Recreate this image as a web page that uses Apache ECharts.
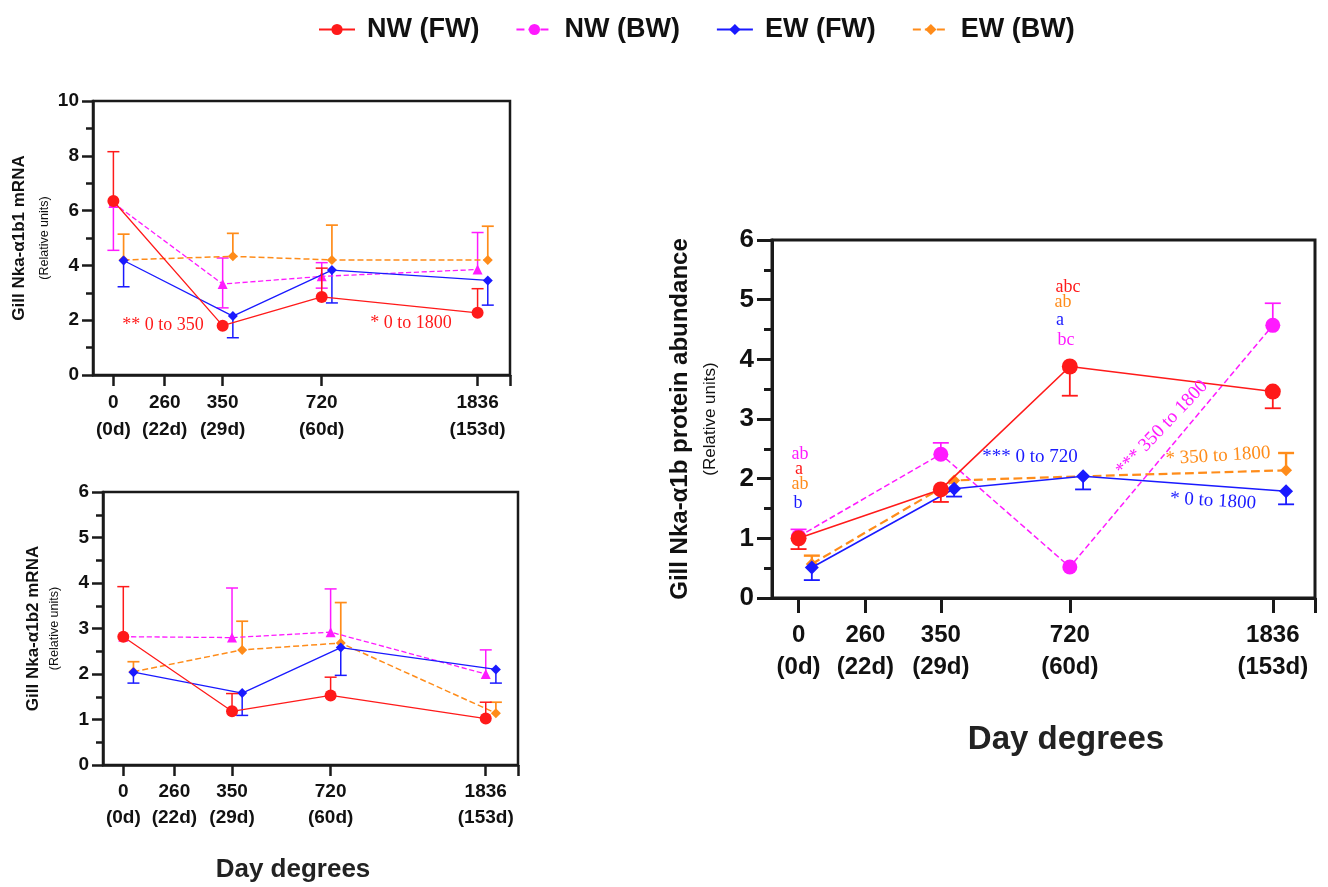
<!DOCTYPE html>
<html>
<head>
<meta charset="utf-8">
<script src="https://cdn.jsdelivr.net/npm/echarts/dist/echarts.min.js"></script>
<style>
html,body{margin:0;padding:0;background:#fff;}
#chart{width:1328px;height:887px;}
</style>
</head>
<body>
<div id="chart"></div>
<script>
// ---------------- DATA ----------------
const seriesNames = ['NW (FW)', 'NW (BW)', 'EW (FW)', 'EW (BW)'];
const dayDegreePoints = [0, 350, 720, 1836];
const tickValues = [0, 260, 350, 720, 1836];
const tickLabels = ['0', '260', '350', '720', '1836'];
const tickDays = ['(0d)', '(22d)', '(29d)', '(60d)', '(153d)'];

// Panel: Gill Nka-α1b1 mRNA (top left)
const b1_NWFW = [6.35, 1.80, 2.85, 2.27];
const b1_NWFW_hi = [8.15, null, 3.90, 3.15];
const b1_NWFW_lo = [null, null, null, null];
const b1_NWBW = [6.28, 3.32, 3.60, 3.85];
const b1_NWBW_hi = [null, 4.27, 4.10, 5.20];
const b1_NWBW_lo = [4.55, 2.45, 3.17, null];
const b1_EWFW = [4.18, 2.15, 3.83, 3.45];
const b1_EWFW_hi = [null, null, null, null];
const b1_EWFW_lo = [3.22, 1.36, 2.63, 2.55];
const b1_EWBW = [4.20, 4.33, 4.20, 4.20];
const b1_EWBW_hi = [5.14, 5.17, 5.47, 5.43];
const b1_EWBW_lo = [null, null, null, null];

// Panel: Gill Nka-α1b2 mRNA (bottom left)
const b2_NWFW = [2.82, 1.18, 1.53, 1.02];
const b2_NWFW_hi = [3.92, 1.57, 1.93, 1.38];
const b2_NWFW_lo = [null, null, null, null];
const b2_NWBW = [2.82, 2.80, 2.92, 2.00];
const b2_NWBW_hi = [null, 3.89, 3.87, 2.53];
const b2_NWBW_lo = [null, null, null, null];
const b2_EWFW = [2.04, 1.58, 2.58, 2.10];
const b2_EWFW_hi = [null, null, null, null];
const b2_EWFW_lo = [1.80, 1.09, 1.97, 1.80];
const b2_EWBW = [2.05, 2.53, 2.68, 1.14];
const b2_EWBW_hi = [2.27, 3.16, 3.57, 1.38];
const b2_EWBW_lo = [null, null, null, null];

// Panel: Gill Nka-α1b protein abundance (right)
const pr_NWFW = [1.00, 1.82, 3.88, 3.46];
const pr_NWFW_hi = [null, null, null, null];
const pr_NWFW_lo = [0.82, 1.61, 3.39, 3.18];
const pr_NWBW = [1.03, 2.41, 0.52, 4.57];
const pr_NWBW_hi = [1.15, 2.60, null, 4.94];
const pr_NWBW_lo = [null, null, null, null];
const pr_EWFW = [0.51, 1.83, 2.04, 1.79];
const pr_EWFW_hi = [null, null, null, null];
const pr_EWFW_lo = [0.30, 1.70, 1.82, 1.57];
const pr_EWBW = [0.57, 1.97, 2.04, 2.14];
const pr_EWBW_hi = [0.71, null, null, 2.43];
const pr_EWBW_lo = [null, null, null, null];

// ---------------- SCALE (non-linear day-degree axis as drawn) ----------------
const axisKnotPos = [0, 0.141, 0.300, 0.572, 1];
const X_MIN = -0.056, X_MAX = 1.089;
const EW_SHIFT = 0.028; // EW groups drawn slightly to the right
function xPos(d) {
  for (let i = 0; i < tickValues.length - 1; i++) {
    if (d <= tickValues[i + 1]) {
      const t = (d - tickValues[i]) / (tickValues[i + 1] - tickValues[i]);
      return axisKnotPos[i] + t * (axisKnotPos[i + 1] - axisKnotPos[i]);
    }
  }
  return 1;
}

// ---------------- STYLE ----------------
const COLORS = ['#ff1a1a', '#ff1aff', '#1a1aff', '#ff8c1a'];
const DASH = ['solid', 'dashed', 'solid', 'dashed'];
const SHIFT = [0, 0, EW_SHIFT, EW_SHIFT];
const Z = [8, 5, 6, 4];

const panels = [
  { // right first so legend icons match (circles)
    grid: { left: 772, top: 240, width: 543, height: 358 },
    ymax: 6, interval: 1, yFont: 26, xFont: 24, xLineH: 32, xMargin: 21, tickLen: 15, minorLen: 8, axisW: 3,
    symbols: ['circle', 'circle', 'diamond', 'diamond'], sizes: [16, 15, 14, 12],
    lineW: [1.6, 1.5, 1.6, 2.2], cap: 8,
    title: 'Gill Nka-α1b protein abundance', tFont: 24, sFont: 17, tLH: 36, sLH: 24, nameGap: 50,
    data: [[pr_NWFW, pr_NWFW_hi, pr_NWFW_lo], [pr_NWBW, pr_NWBW_hi, pr_NWBW_lo],
           [pr_EWFW, pr_EWFW_hi, pr_EWFW_lo], [pr_EWBW, pr_EWBW_hi, pr_EWBW_lo]]
  },
  {
    grid: { left: 93, top: 101, width: 417, height: 274 },
    ymax: 10, interval: 2, yFont: 19, xFont: 19, xLineH: 27, xMargin: 14, tickLen: 11, minorLen: 7, axisW: 2.5,
    symbols: ['circle', 'triangle', 'diamond', 'diamond'], sizes: [12, 10, 10, 10],
    lineW: [1.3, 1.3, 1.3, 1.5], cap: 6,
    title: 'Gill Nka-α1b1 mRNA', tFont: 17, sFont: 12.5, tLH: 30, sLH: 21, nameGap: 38,
    data: [[b1_NWFW, b1_NWFW_hi, b1_NWFW_lo], [b1_NWBW, b1_NWBW_hi, b1_NWBW_lo],
           [b1_EWFW, b1_EWFW_hi, b1_EWFW_lo], [b1_EWBW, b1_EWBW_hi, b1_EWBW_lo]]
  },
  {
    grid: { left: 103, top: 492, width: 415, height: 273 },
    ymax: 6, interval: 1, yFont: 19, xFont: 19, xLineH: 26, xMargin: 14, tickLen: 11, minorLen: 7, axisW: 2.5,
    symbols: ['circle', 'triangle', 'diamond', 'diamond'], sizes: [12, 10, 10, 10],
    lineW: [1.3, 1.3, 1.3, 1.5], cap: 6,
    title: 'Gill Nka-α1b2 mRNA', tFont: 17, sFont: 12.5, tLH: 26, sLH: 18, nameGap: 39,
    data: [[b2_NWFW, b2_NWFW_hi, b2_NWFW_lo], [b2_NWBW, b2_NWBW_hi, b2_NWBW_lo],
           [b2_EWFW, b2_EWFW_hi, b2_EWFW_lo], [b2_EWBW, b2_EWBW_hi, b2_EWBW_lo]]
  }
];

const FONT = 'Liberation Sans, Arial, sans-serif';
const SERIF = 'Liberation Serif, DejaVu Serif, serif';
const AXIS_COLOR = '#1a1a1a';

const grids = [], xAxes = [], yAxes = [], series = [];

function errRender(cap, color, width) {
  return function (params, api) {
    const x = api.value(0), m = api.value(1);
    const ends = [api.value(2), api.value(3)];
    const pm = api.coord([x, m]);
    const children = [];
    ends.forEach(v => {
      if (v === null || v === undefined || isNaN(v)) return;
      const pe = api.coord([x, v]);
      children.push({ type: 'line', shape: { x1: pm[0], y1: pm[1], x2: pe[0], y2: pe[1] },
        style: { stroke: color, lineWidth: width } });
      children.push({ type: 'line', shape: { x1: pe[0] - cap, y1: pe[1], x2: pe[0] + cap, y2: pe[1] },
        style: { stroke: color, lineWidth: width } });
    });
    return { type: 'group', children };
  };
}

panels.forEach((p, gi) => {
  grids.push(Object.assign({ show: true, borderColor: AXIS_COLOR, borderWidth: p.axisW,
    backgroundColor: 'transparent', containLabel: false }, p.grid));
  const tickPos = tickValues.map(xPos);
  xAxes.push({
    gridIndex: gi, type: 'value', min: X_MIN, max: X_MAX,
    axisLine: { show: true, onZero: false, lineStyle: { color: AXIS_COLOR, width: p.axisW } },
    axisTick: { show: true, customValues: tickPos.concat([X_MAX]), length: p.tickLen,
      lineStyle: { color: AXIS_COLOR, width: p.axisW } },
    axisLabel: {
      customValues: tickPos, margin: p.xMargin,
      formatter: v => {
        let k = 0, best = 1e9;
        tickPos.forEach((t, i) => { if (Math.abs(t - v) < best) { best = Math.abs(t - v); k = i; } });
        return '{n|' + tickLabels[k] + '}\n{d|' + tickDays[k] + '}';
      },
      rich: {
        n: { fontFamily: FONT, fontWeight: 'bold', fontSize: p.xFont, color: '#111', lineHeight: p.xLineH },
        d: { fontFamily: FONT, fontWeight: 'bold', fontSize: p.xFont, color: '#111', lineHeight: p.xLineH }
      }
    },
    splitLine: { show: false }
  });
  yAxes.push({
    gridIndex: gi, type: 'value', min: 0, max: p.ymax, interval: p.interval,
    axisLine: { show: true, onZero: false, lineStyle: { color: AXIS_COLOR, width: p.axisW } },
    axisTick: { show: true, length: p.tickLen, lineStyle: { color: AXIS_COLOR, width: p.axisW } },
    minorTick: { show: true, splitNumber: 2, length: p.minorLen, lineStyle: { color: AXIS_COLOR, width: p.axisW } },
    axisLabel: { fontFamily: FONT, fontWeight: 'bold', fontSize: p.yFont, color: '#111', margin: p.tickLen + 3 },
    splitLine: { show: false }, minorSplitLine: { show: false },
    name: '{t|' + p.title + '}\n{s|(Relative units)}',
    nameLocation: 'middle', nameRotate: 90, nameGap: p.nameGap,
    nameTextStyle: {
      rich: {
        t: { fontFamily: FONT, fontWeight: 'bold', fontSize: p.tFont, color: '#111', lineHeight: p.tLH },
        s: { fontFamily: FONT, fontSize: p.sFont, color: '#111', lineHeight: p.sLH }
      }
    }
  });
  p.data.forEach((d, si) => {
    const [mean, hi, lo] = d;
    const pts = dayDegreePoints.map((dd, k) => [xPos(dd) + SHIFT[si], mean[k]]);
    series.push({
      name: seriesNames[si], type: 'line', xAxisIndex: gi, yAxisIndex: gi,
      data: pts, symbol: p.symbols[si], symbolSize: p.sizes[si], showSymbol: true,
      lineStyle: { color: COLORS[si], width: p.lineW[si], type: DASH[si] },
      itemStyle: { color: COLORS[si], borderWidth: 0 },
      z: Z[si] + 2, animation: false, clip: false, emphasis: { disabled: true }
    });
    series.push({
      name: 'err-' + gi + '-' + si, type: 'custom', xAxisIndex: gi, yAxisIndex: gi,
      data: dayDegreePoints.map((dd, k) => [xPos(dd) + SHIFT[si], mean[k],
        hi[k] === null ? NaN : hi[k], lo[k] === null ? NaN : lo[k]]),
      renderItem: errRender(p.cap, COLORS[si], p.lineW[si] + 0.2),
      z: Z[si] + 1, animation: false, clip: false, silent: true
    });
  });
});

function txt(text, x, y, color, size, rot) {
  return { type: 'text', x: x, y: y, rotation: rot || 0, z: 100,
    style: { text: text, fill: color, font: size + 'px ' + SERIF, align: 'center', verticalAlign: 'middle' } };
}

const graphics = [
  txt('** 0 to 350', 163, 325, COLORS[0], 18),
  txt('* 0 to 1800', 411, 323, COLORS[0], 18),
  txt('ab', 800, 454, COLORS[1], 18),
  txt('a', 799, 469, COLORS[0], 18),
  txt('ab', 800, 484, COLORS[3], 18),
  txt('b', 798, 503, COLORS[2], 18),
  txt('abc', 1068, 287, COLORS[0], 18),
  txt('ab', 1063, 302, COLORS[3], 18),
  txt('a', 1060, 320, COLORS[2], 18),
  txt('bc', 1066, 340, COLORS[1], 18),
  txt('*** 0 to 720', 1030, 457, COLORS[2], 19),
  txt('*** 350 to 1800', 1162, 428, COLORS[1], 19, 0.81),
  txt('* 350 to 1800', 1218, 456, COLORS[3], 19, 0.06),
  txt('* 0 to 1800', 1213, 501, COLORS[2], 19, -0.06),
  { type: 'text', x: 293, y: 870, z: 100,
    style: { text: 'Day degrees', fill: '#222', font: 'bold 26px ' + FONT, align: 'center', verticalAlign: 'middle' } },
  { type: 'text', x: 1066, y: 740, z: 100,
    style: { text: 'Day degrees', fill: '#222', font: 'bold 33px ' + FONT, align: 'center', verticalAlign: 'middle' } }
];

const chart = echarts.init(document.getElementById('chart'), null, { renderer: 'canvas' });
chart.setOption({
  backgroundColor: '#fff',
  animation: false,
  legend: {
    data: seriesNames, top: 11, left: 313, itemWidth: 36, itemHeight: 14, itemGap: 36,
    textStyle: { fontFamily: FONT, fontWeight: 'bold', fontSize: 27, color: '#111', padding: [0, 0, 0, 7] }
  },
  grid: grids, xAxis: xAxes, yAxis: yAxes, series: series, graphic: graphics
});
</script>
</body>
</html>
